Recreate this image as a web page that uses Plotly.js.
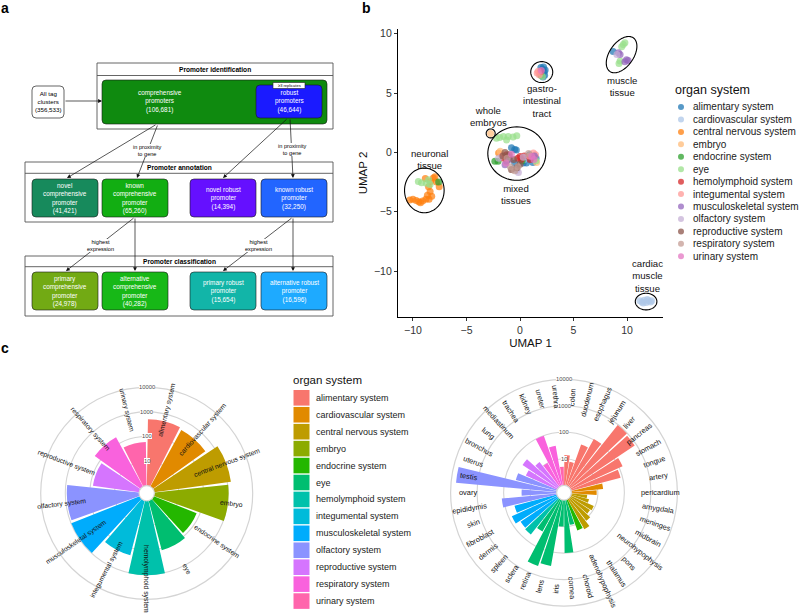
<!DOCTYPE html>
<html><head><meta charset="utf-8">
<script src="https://cdn.plot.ly/plotly-3.0.1.min.js"></script>
<style>html,body{margin:0;padding:0;background:#fff}#chart{width:800px;height:613px}</style>
</head><body><div id="chart"></div>
<script>
// ================= DATA =================
const organSystems = ['alimentary system','cardiovascular system','central nervous system','embryo','endocrine system','eye','hemolymphoid system','integumental system','musculoskeletal system','olfactory system','reproductive system','respiratory system','urinary system'];

// panel c (left): counts per organ system
const systemCounts = [500, 420, 1400, 1050, 75, 121, 1050, 198, 975, 870, 79, 194, 60];

// panel c (right): counts per tissue
const tissues = ['colon','duodenum','esophagus','jejunum','liver','pancreas','stomach','tongue','artery','pericardium','amygdala','meninges','midbrain','neurohypophysis','pons','thalamus','adenohypophysis','choroid','cornea','iris','lens','retina','sclera','spleen','dermis','fibroblast','skin','epididymis','ovary','testis','uterus','bronchus','lung','mediastinum','trachea','kidney','ureter','urethra'];
const tissueCounts = [14, 8, 45, 110, 950, 850, 140, 85, 16, 9, 4, 5, 9, 8, 12, 20, 17, 9, 100, 10, 340, 450, 25, 54, 49, 76, 45, 120, 21, 6500, 40, 20, 40, 16, 10, 100, 33, 5];
const tissueSystem = [0,0,0,0,0,0,0,0,1,1,2,2,2,2,2,2,4,5,5,5,5,5,5,6,8,8,8,9,9,9,9,10,10,10,11,11,11,12];

// panel b: UMAP coordinates per organ system
const alimentaryX = [2.1,2.25,2.3,2.15,1.95,2.35,2.2, 8.7, -0.8,-0.5,-0.35,0.9,0.6,0.3,1.2,-0.5,1.5,0.7];
const alimentaryY = [7.0,6.8,6.5,6.35,7.15,6.95,7.2, 8.5, 0.4,0.25,0.2,-0.2,-0.9,-0.9,-0.85,-0.9,-0.5,-0.55];
const cardioX = [11.2,11.4,11.6,11.8,12.0,12.2,11.5,11.9,12.3, 0.4,-1.0];
const cardioY = [-12.5,-12.6,-12.45,-12.65,-12.5,-12.6,-12.7,-12.4,-12.5, -0.6,-0.4];
const cnsX = [-10.3,-10.0,-9.7,-9.45,-9.1,-8.8,-8.5,-8.25,-8.4,-8.55,-8.35,-8.1,-7.95,-8.85,-7.8,-7.55,-9.3,-8.65, -2.0];
const cnsY = [-4.0,-3.95,-4.05,-4.15,-4.1,-3.95,-3.95,-3.7,-3.3,-2.9,-2.45,-2.15,-2.05,-2.2,-2.5,-2.9,-4.25,-3.6, -0.05];
const embryoX = [-2.75, 1.55,-1.85];
const embryoY = [1.6, -0.85,0.1];
const endocrineX = [-7.6, -2.35,-2.05,-1.25,0.2, 1.95];
const endocrineY = [-2.5, -0.75,-0.75,-0.75,-0.7, 6.5];
const eyeX = [-9.5,-9.2,-8.75,-8.55,-8.4, -2.2,-1.55,-1.1,-0.65,-0.3,-1.25,-1.9,1.5, 9.8,9.65,9.5,9.35,9.25, 2.1];
const eyeY = [-2.45,-2.55,-2.6,-2.3,-2.7, 1.2,1.35,1.35,1.3,1.4,1.05,1.25,-0.7, 9.25,9.1,8.9,7.7,7.5, 6.4];
const hemoX = [0,0.95,-1.25,-0.2,0.4,-1.5,0.1, 1.9];
const hemoY = [-0.35,-0.6,-0.2,-0.5,-0.3,-0.5,-0.6, 6.8];
const integX = [1.25,1.45,0.9,-1.7, 1.6,1.8,1.7];
const integY = [-0.05,-0.2,-0.3,-0.3, 6.7,6.55,6.85];
const muscX = [9.35,9.2,9.95,9.8,10.1, -1.4,1.35,-1.0];
const muscY = [8.25,8.4,7.8,7.65,7.75, -1.05,-0.3,-0.6];
const olfX = [9.05, -0.15,-0.3,0.3,-2.0];
const olfY = [8.25, -1.7,-1.5,-0.4,-0.5];
const reproX = [-0.8,-0.3,-1.6,-1.4,-0.6,0.0,-1.0];
const reproY = [-1.45,-1.3,-0.3,0.0,-0.6,-1.0,-0.2];
const respX = [-0.5,-0.9,-1.2,0.8,-0.2];
const respY = [-1.55,-1.2,-0.5,-0.1,-1.2];
const urinX = [-1.3,1.1,1.3,-0.8, 2.0];
const urinY = [-0.9,-0.35,-0.6,-0.15, 6.9];
const umapXs = [alimentaryX,cardioX,cnsX,embryoX,endocrineX,eyeX,hemoX,integX,muscX,olfX,reproX,respX,urinX];
const umapYs = [alimentaryY,cardioY,cnsY,embryoY,endocrineY,eyeY,hemoY,integY,muscY,olfY,reproY,respY,urinY];
const clusterLabels = ['gastro-<br>intestinal<br>tract','muscle<br>tissue','whole<br>embryos','neuronal<br>tissue','mixed<br>tissues','cardiac<br>muscle<br>tissue'];
const umapTicks = [-10,-5,0,5,10];
const radialTicks = [10,100,1000,10000];

// panel a text
const stageTitles = ['Promoter identification','Promoter annotation','Promoter classification'];
const boxTexts = [
 'comprehensive<br>promoters<br>(106,681)','robust<br>promoters<br>(46,644)',
 'novel<br>comprehensive<br>promoter<br>(41,421)','known<br>comprehensive<br>promoter<br>(65,260)',
 'novel robust<br>promoter<br>(14,394)','known robust<br>promoter<br>(32,250)',
 'primary<br>comprehensive<br>promoter<br>(24,978)','alternative<br>comprehensive<br>promoter<br>(40,282)',
 'primary robust<br>promoter<br>(15,654)','alternative robust<br>promoter<br>(16,596)'];
const allTagText = 'All tag<br>clusters<br>(356,533)';
const edgeTexts = ['in proximity<br>to gene','highest<br>expression','≥3 replicates'];

// ================= STYLE / LAYOUT =================
const W=800,H=613;
const F='Liberation Sans, Arial, Helvetica, sans-serif';
const px=x=>x/W, py=y=>1-y/H;
const hue13=['#F8766D','#E18A00','#BE9C00','#8CAB00','#24B700','#00BE70','#00C1AB','#00BBDA','#00ACFC','#8B93FF','#D575FE','#F962DD','#FF65AC'];
const tab13=['#1f77b4','#aec7e8','#ff7f0e','#ffbb78','#2ca02c','#98df8a','#d62728','#ff9896','#9467bd','#c5b0d5','#8c564b','#c49c94','#e377c2'];

const shapes=[], ann=[];
function P(x,y){return px(x)+','+py(y);}
function rrect(x0,y0,x1,y1,r,fill,line,lw){
  const d=`M${P(x0+r,y0)} L${P(x1-r,y0)} Q${P(x1,y0)} ${P(x1,y0+r)} L${P(x1,y1-r)} Q${P(x1,y1)} ${P(x1-r,y1)} L${P(x0+r,y1)} Q${P(x0,y1)} ${P(x0,y1-r)} L${P(x0,y0+r)} Q${P(x0,y0)} ${P(x0+r,y0)} Z`;
  shapes.push({type:'path',xref:'paper',yref:'paper',path:d,fillcolor:fill||'rgba(0,0,0,0)',line:{color:line||'#222',width:lw==null?0.6:lw}});
}
function rect(x0,y0,x1,y1,fill,line,lw){
  shapes.push({type:'rect',xref:'paper',yref:'paper',x0:px(x0),x1:px(x1),y0:py(y0),y1:py(y1),fillcolor:fill||'rgba(0,0,0,0)',line:{color:line||'#444',width:lw==null?0.8:lw}});
}
function hline(x0,x1,y,color,lw){shapes.push({type:'line',xref:'paper',yref:'paper',x0:px(x0),x1:px(x1),y0:py(y),y1:py(y),line:{color:color||'#444',width:lw||0.8}});}
function txt(x,y,text,o){o=o||{};ann.push({xref:'paper',yref:'paper',x:px(x),y:py(y),text:text,showarrow:false,
  font:{family:F,size:o.size||6.5,color:o.color||'#000'},xanchor:o.xa||'center',yanchor:o.ya||'middle',
  textangle:o.angle||0,bgcolor:o.bg||'rgba(0,0,0,0)',borderpad:o.pad==null?0:o.pad,align:o.align||'center',
  bordercolor:o.bc||'rgba(0,0,0,0)',borderwidth:o.bw||0});}
function arrow(x0,y0,x1,y1){ann.push({xref:'paper',yref:'paper',x:px(x1),y:py(y1),ax:x0-x1,ay:y0-y1,axref:'pixel',ayref:'pixel',
  showarrow:true,arrowhead:2,arrowsize:1.1,arrowwidth:0.7,arrowcolor:'#111',text:''});}

// ---- panel letters
txt(1,8,'<b>a</b>',{size:14,xa:'left'});
txt(362,8,'<b>b</b>',{size:14,xa:'left'});
txt(1,348,'<b>c</b>',{size:14,xa:'left'});

// ---- panel a flowchart
const stages=[{x0:97,y0:63,x1:333,y1:129,div:75.5},{x0:25,y0:162,x1:333,y1:222,div:173.3},{x0:25,y0:256,x1:333,y1:316,div:266.7}];
stages.forEach((s,i)=>{rect(s.x0,s.y0,s.x1,s.y1,'rgba(0,0,0,0)','#555',0.9);hline(s.x0,s.x1,s.div,'#555',0.9);
  txt((s.x0+s.x1)/2,(s.y0+s.div)/2,'<b>'+stageTitles[i]+'</b>',{size:6.6});});
const boxGeo=[
 {x0:102,y0:80,x1:327,y1:124,fill:'#0f8a0f',tx:160,ty:101.7},
 {x0:256,y0:85,x1:322,y1:118,fill:'#1a1aff',tx:289,ty:101.7},
 {x0:32,y0:179,x1:98,y1:217,fill:'#178a5c',tx:65,ty:198},
 {x0:102,y0:179,x1:168,y1:217,fill:'#12ae12',tx:135,ty:198},
 {x0:190,y0:179,x1:256,y1:217,fill:'#6510ff',tx:223,ty:198.3},
 {x0:261,y0:179,x1:327,y1:217,fill:'#2265ff',tx:294,ty:198.3},
 {x0:32,y0:272,x1:98,y1:310,fill:'#72aa14',tx:65,ty:291},
 {x0:102,y0:272,x1:168,y1:310,fill:'#17b817',tx:135,ty:291},
 {x0:190,y0:272,x1:256,y1:310,fill:'#12b5a8',tx:223,ty:291},
 {x0:261,y0:272,x1:327,y1:310,fill:'#1eaaff',tx:294,ty:291}];
boxGeo.forEach((b,i)=>{rrect(b.x0,b.y0,b.x1,b.y1,4,b.fill,'#1a1a1a',0.6);txt(b.tx,b.ty,boxTexts[i],{size:6.4,color:'#fff'});});
rrect(32,86,64,118,4,'#fff','#222',0.7);
txt(48,101.7,allTagText,{size:6.2});
rect(273,82.5,305,88.5,'#fff','#222',0.6);
txt(289,85.5,edgeTexts[2],{size:4});
arrow(64,101,102,101);
arrow(157,124,67,178);
arrow(158,124,137,178);
arrow(288,118,223,178);
arrow(290,118,293,178);
arrow(135,217,66,271);
arrow(135,217,135,271);
arrow(293,217,223,271);
arrow(293,217,293,271);
txt(147,150.5,edgeTexts[0],{size:5.6,bg:'#fff'});
txt(292,149.5,edgeTexts[0],{size:5.6,bg:'#fff'});
txt(100,245,edgeTexts[1],{size:5.6,bg:'#fff'});
txt(258,245,edgeTexts[1],{size:5.6,bg:'#fff'});

// ---- panel b
const bX0=398,bX1=663,bY0=29,bY1=317, xr=[-11.4,13.36], yr=[-13.87,10.4];
const sx=(bX1-bX0)/(xr[1]-xr[0]), sy=(bY1-bY0)/(yr[1]-yr[0]);
function ell(cx,cy,a,b,phiDeg){ // a,b in px, phi from horizontal (ccw)
  const phi=phiDeg*Math.PI/180; let d='';
  for(let k=0;k<=72;k++){const t=k/72*2*Math.PI;
    const ex=a*Math.cos(t)*Math.cos(phi)-b*Math.sin(t)*Math.sin(phi);
    const ey=a*Math.cos(t)*Math.sin(phi)+b*Math.sin(t)*Math.cos(phi);
    d+=(k?'L':'M')+(cx+ex/sx).toFixed(4)+','+(cy+ey/sy).toFixed(4)+' ';}
  shapes.push({type:'path',xref:'x',yref:'y',path:d+'Z',line:{color:'#000',width:1.1},fillcolor:'rgba(0,0,0,0)'});
}
ell(2.03,6.77,11,10.5,0);
ell(9.49,8.24,20.5,12,55);
ell(-2.74,1.6,4.5,4.5,0);
ell(-0.3,-0.1,29,26.7,0);
ell(-8.94,-3.2,19.8,22.3,0);
ell(11.78,-12.57,10.8,8.3,0);
// label block centres (px); line spacing set tight via font size
const clPos=[[541.7,100.5],[621.7,86.5],[489,116.5],[429,159.5],[516,194.5],[647,276.5]];
clPos.forEach((p,i)=>txt(p[0],p[1],clusterLabels[i],{size:9.6,color:'#111'}));

const traces=[];
organSystems.forEach((s,i)=>traces.push({type:'scatter',mode:'markers',x:umapXs[i],y:umapYs[i],name:s,xaxis:'x',yaxis:'y',
  marker:{color:tab13[i],size:7,opacity:0.72,line:{width:0}},showlegend:false,hoverinfo:'skip'}));

// legend b
txt(675,90,'organ system',{size:12.5,xa:'left',color:'#111'});
organSystems.forEach((s,i)=>{const y=107+i*12.44;
  shapes.push({type:'circle',xref:'paper',yref:'paper',x0:px(678),x1:px(684),y0:py(y+3),y1:py(y-3),fillcolor:tab13[i],opacity:0.75,line:{width:0}});
  txt(693,y,s,{size:10,xa:'left',color:'#1a1a1a'});});

// ---- panel c polar charts
const polL={cx:146.7,cy:493.3,R:106,hole:0.072,lr:85.5}, polR={cx:564,cy:492.7,R:113.4,hole:0.065,lr:96};
function rpx(p,v){return p.R*(p.hole+(1-p.hole)*Math.log10(v)/4);}
function polDomain(p){return {x:[px(p.cx-p.R),px(p.cx+p.R)],y:[py(p.cy+p.R),py(p.cy-p.R)]};}
const nL=organSystems.length, nR=tissues.length;
traces.push({type:'barpolar',subplot:'polar',r:systemCounts,theta:systemCounts.map((_,i)=>(i+0.5)*360/nL),width:360/nL*0.93,
  marker:{color:hue13,line:{width:0}},showlegend:false,hoverinfo:'skip'});
traces.push({type:'barpolar',subplot:'polar2',r:tissueCounts,theta:tissueCounts.map((_,i)=>(i+0.5)*360/nR),width:360/nR*0.88,
  marker:{color:tissueSystem.map(k=>hue13[k]),line:{width:0}},showlegend:false,hoverinfo:'skip'});
function polarLayout(p){return {domain:polDomain(p),hole:p.hole,bgcolor:'rgba(0,0,0,0)',
  radialaxis:{type:'log',range:[0,4],tickvals:radialTicks,showticklabels:false,ticks:'',showline:false,gridcolor:'#d4d4d4',gridwidth:1.1,angle:90},
  angularaxis:{rotation:90,direction:'clockwise',showgrid:false,showticklabels:false,ticks:'',showline:true,linecolor:'#d4d4d4',linewidth:1.2}};}
function polarLabels(p,labels,size){
  const n=labels.length;
  labels.forEach((l,i)=>{const a=(i+0.5)*360/n, t=a*Math.PI/180;
    const x=p.cx+p.lr*Math.sin(t), y=p.cy-p.lr*Math.cos(t);
    txt(x,y,l,{size:size,angle:a<=180.01?a-90:a-270,color:'#111'});});
  radialTicks.forEach(v=>txt(p.cx,p.cy-rpx(p,v),String(v),{size:5.8,color:'#4d4d4d',bg:'#fff'}));
}
polarLabels(polL,organSystems,6.8);
polarLabels(polR,tissues,7.4);

// legend c
txt(293,379.5,'organ system',{size:11.5,xa:'left',color:'#111'});
organSystems.forEach((s,i)=>{const y0=390+i*16.94;
  rect(293.5,y0,309.5,y0+15.6,hue13[i],'rgba(0,0,0,0)',0);
  txt(315.7,y0+7.8,s,{size:9,xa:'left',color:'#1a1a1a'});});

const layout={width:W,height:H,margin:{l:0,r:0,t:0,b:0},paper_bgcolor:'#fff',plot_bgcolor:'rgba(0,0,0,0)',showlegend:false,
  font:{family:F},
  xaxis:{domain:[px(bX0),px(bX1)],range:xr,showgrid:false,zeroline:false,showline:true,linecolor:'#000',linewidth:1.1,
    ticks:'outside',ticklen:3,tickwidth:1,tickcolor:'#333',tickvals:umapTicks,tickfont:{family:F,size:10.5,color:'#333'},
    title:{text:'UMAP 1',font:{family:F,size:11.5,color:'#111'},standoff:4},anchor:'y',fixedrange:true},
  yaxis:{domain:[py(bY1),py(bY0)],range:yr,showgrid:false,zeroline:false,showline:true,linecolor:'#000',linewidth:1.1,
    ticks:'outside',ticklen:3,tickwidth:1,tickcolor:'#333',tickvals:umapTicks,tickfont:{family:F,size:10.5,color:'#333'},
    title:{text:'UMAP 2',font:{family:F,size:11.5,color:'#111'},standoff:4},anchor:'x',fixedrange:true},
  polar:polarLayout(polL), polar2:polarLayout(polR),
  shapes:shapes, annotations:ann};
Plotly.newPlot('chart',traces,layout,{staticPlot:true,displayModeBar:false});
</script></body></html>
